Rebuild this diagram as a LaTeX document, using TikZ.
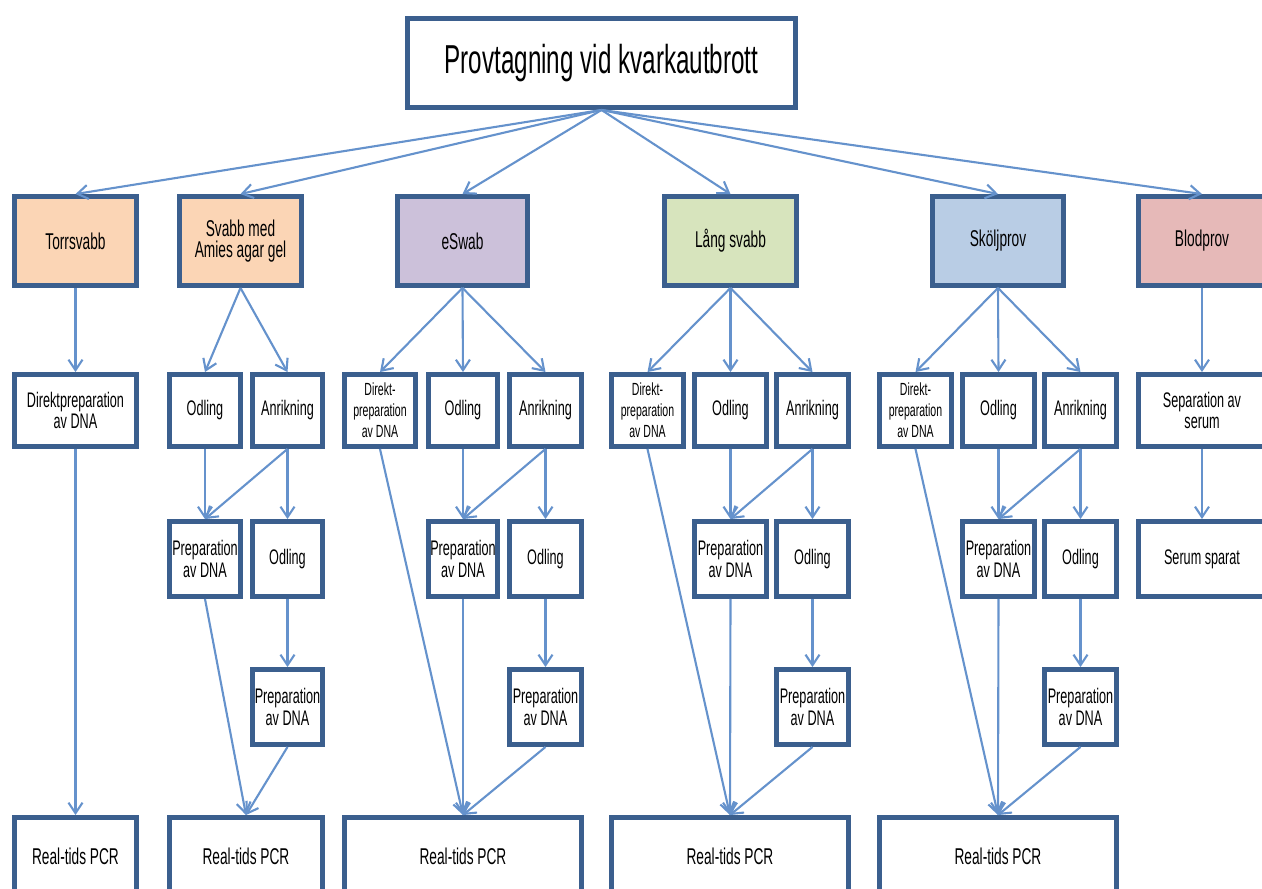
\documentclass[tikz,border=0pt]{standalone}
\usepackage{fontspec}
\setmainfont[FakeStretch=0.6]{Liberation Sans}
\usetikzlibrary{arrows.meta}
\definecolor{bd}{HTML}{3B5F8E}
\definecolor{ln}{HTML}{6592CC}
\definecolor{peach}{HTML}{FBD5B5}
\definecolor{lav}{HTML}{CCC1DA}
\definecolor{lgreen}{HTML}{D7E4BD}
\definecolor{lblue}{HTML}{B9CDE5}
\definecolor{lred}{HTML}{E6B9B8}
\newcommand\ftitle{\fontsize{23}{27}\selectfont}
\newcommand\fbig{\fontsize{13}{15.5}\selectfont}
\newcommand\fmid{\fontsize{12}{14}\selectfont}
\newcommand\fsml{\fontsize{10}{12}\selectfont}
\newcommand\bx[7]{%
  \node[box,#6,minimum width={(#4-#2-5)*0.569pt},minimum height={(#5-#3-5)*0.569pt}] (#1) at ({(#2+#4)/2},{(#3+#5)/2}) {#7};}
\tikzset{
  box/.style={draw=bd, line width=2.8pt, fill=white, align=center, inner sep=1pt, text=black},
  arr/.style={draw=ln, line width=1.2pt, -{Straight Barb[length=6pt,width=8pt]}}
}
\begin{document}
\begin{tikzpicture}[x=0.02cm,y=-0.02cm]
\useasboundingbox (0,0) rectangle (1262,889);
% title
\bx{top}{405}{16}{798}{110}{}{\ftitle Provtagning vid kvarkautbrott}
% row 1
\bx{r1a}{12}{194}{139}{288}{fill=peach}{\fbig Torrsvabb}
\bx{r1b}{177}{194}{304}{288}{fill=peach}{\fbig Svabb med\\\fbig Amies agar gel}
\bx{r1c}{395}{194}{530}{288}{fill=lav}{\fbig eSwab}
\bx{r1d}{662}{194}{799}{288}{fill=lgreen}{\fbig Lång svabb}
\bx{r1e}{930}{194}{1066}{288}{fill=lblue}{\fbig Sköljprov}
\bx{r1f}{1136}{194}{1268}{288}{fill=lred}{\fbig Blodprov}
% row 2
\bx{a2}{12}{372}{139}{449}{}{\fmid Direktpreparation\\\fmid av DNA}
\bx{b2o}{167}{372}{243}{449}{}{\fmid Odling}
\bx{b2a}{250}{372}{325}{449}{}{\fmid Anrikning}
\bx{c2d}{342}{372}{418}{449}{}{\fsml Direkt-\\\fsml preparation\\\fsml av DNA}
\bx{c2o}{426}{372}{500}{449}{}{\fmid Odling}
\bx{c2a}{507}{372}{584}{449}{}{\fmid Anrikning}
\bx{d2d}{609}{372}{686}{449}{}{\fsml Direkt-\\\fsml preparation\\\fsml av DNA}
\bx{d2o}{692}{372}{769}{449}{}{\fmid Odling}
\bx{d2a}{774}{372}{851}{449}{}{\fmid Anrikning}
\bx{e2d}{877}{372}{954}{449}{}{\fsml Direkt-\\\fsml preparation\\\fsml av DNA}
\bx{e2o}{960}{372}{1037}{449}{}{\fmid Odling}
\bx{e2a}{1042}{372}{1119}{449}{}{\fmid Anrikning}
\bx{f2}{1136}{372}{1268}{449}{}{\fmid Separation av\\\fmid serum}
% row 3
\bx{b3p}{167}{519}{243}{599}{}{\fmid Preparation\\\fmid av DNA}
\bx{b3o}{250}{519}{325}{599}{}{\fmid Odling}
\bx{c3p}{426}{519}{500}{599}{}{\fmid Preparation\\\fmid av DNA}
\bx{c3o}{507}{519}{584}{599}{}{\fmid Odling}
\bx{d3p}{692}{519}{769}{599}{}{\fmid Preparation\\\fmid av DNA}
\bx{d3o}{774}{519}{851}{599}{}{\fmid Odling}
\bx{e3p}{960}{519}{1037}{599}{}{\fmid Preparation\\\fmid av DNA}
\bx{e3o}{1042}{519}{1119}{599}{}{\fmid Odling}
\bx{f3}{1136}{519}{1268}{599}{}{\fmid Serum sparat}
% row 4
\bx{b4}{250}{667}{325}{747}{}{\fmid Preparation\\\fmid av DNA}
\bx{c4}{507}{667}{584}{747}{}{\fmid Preparation\\\fmid av DNA}
\bx{d4}{774}{667}{851}{747}{}{\fmid Preparation\\\fmid av DNA}
\bx{e4}{1042}{667}{1119}{747}{}{\fmid Preparation\\\fmid av DNA}
% row 5
\bx{a5}{12}{815}{139}{897}{}{\fbig Real-tids PCR}
\bx{b5}{167}{815}{325}{897}{}{\fbig Real-tids PCR}
\bx{c5}{342}{815}{584}{897}{}{\fbig Real-tids PCR}
\bx{d5}{609}{815}{851}{897}{}{\fbig Real-tids PCR}
\bx{e5}{877}{815}{1119}{897}{}{\fbig Real-tids PCR}
% connectors
\foreach \t in {r1a,r1b,r1c,r1d,r1e,r1f}{\draw[arr] (top.south) -- (\t.north);}
\draw[arr] (r1a.south) -- (a2.north);
\draw[arr] (a2.south) -- (a5.north);
\draw[arr] (r1b.south) -- (b2o.north);
\draw[arr] (r1b.south) -- (b2a.north);
\draw[arr] (b2o.south) -- (b3p.north);
\draw[arr] (b2a.south) -- (b3p.north);
\draw[arr] (b2a.south) -- (b3o.north);
\draw[arr] (b3o.south) -- (b4.north);
\draw[arr] (b3p.south) -- (b5.north);
\draw[arr] (b4.south) -- (b5.north);
\foreach \c/\r in {c/r1c,d/r1d,e/r1e}{
  \draw[arr] (\r.south) -- (\c2d.north);
  \draw[arr] (\r.south) -- (\c2o.north);
  \draw[arr] (\r.south) -- (\c2a.north);
  \draw[arr] (\c2o.south) -- (\c3p.north);
  \draw[arr] (\c2a.south) -- (\c3p.north);
  \draw[arr] (\c2a.south) -- (\c3o.north);
  \draw[arr] (\c3o.south) -- (\c4.north);
  \draw[arr] (\c2d.south) -- (\c5.north);
  \draw[arr] (\c3p.south) -- (\c5.north);
  \draw[arr] (\c4.south) -- (\c5.north);
}
\draw[arr] (r1f.south) -- (f2.north);
\draw[arr] (f2.south) -- (f3.north);
\end{tikzpicture}
\end{document}
